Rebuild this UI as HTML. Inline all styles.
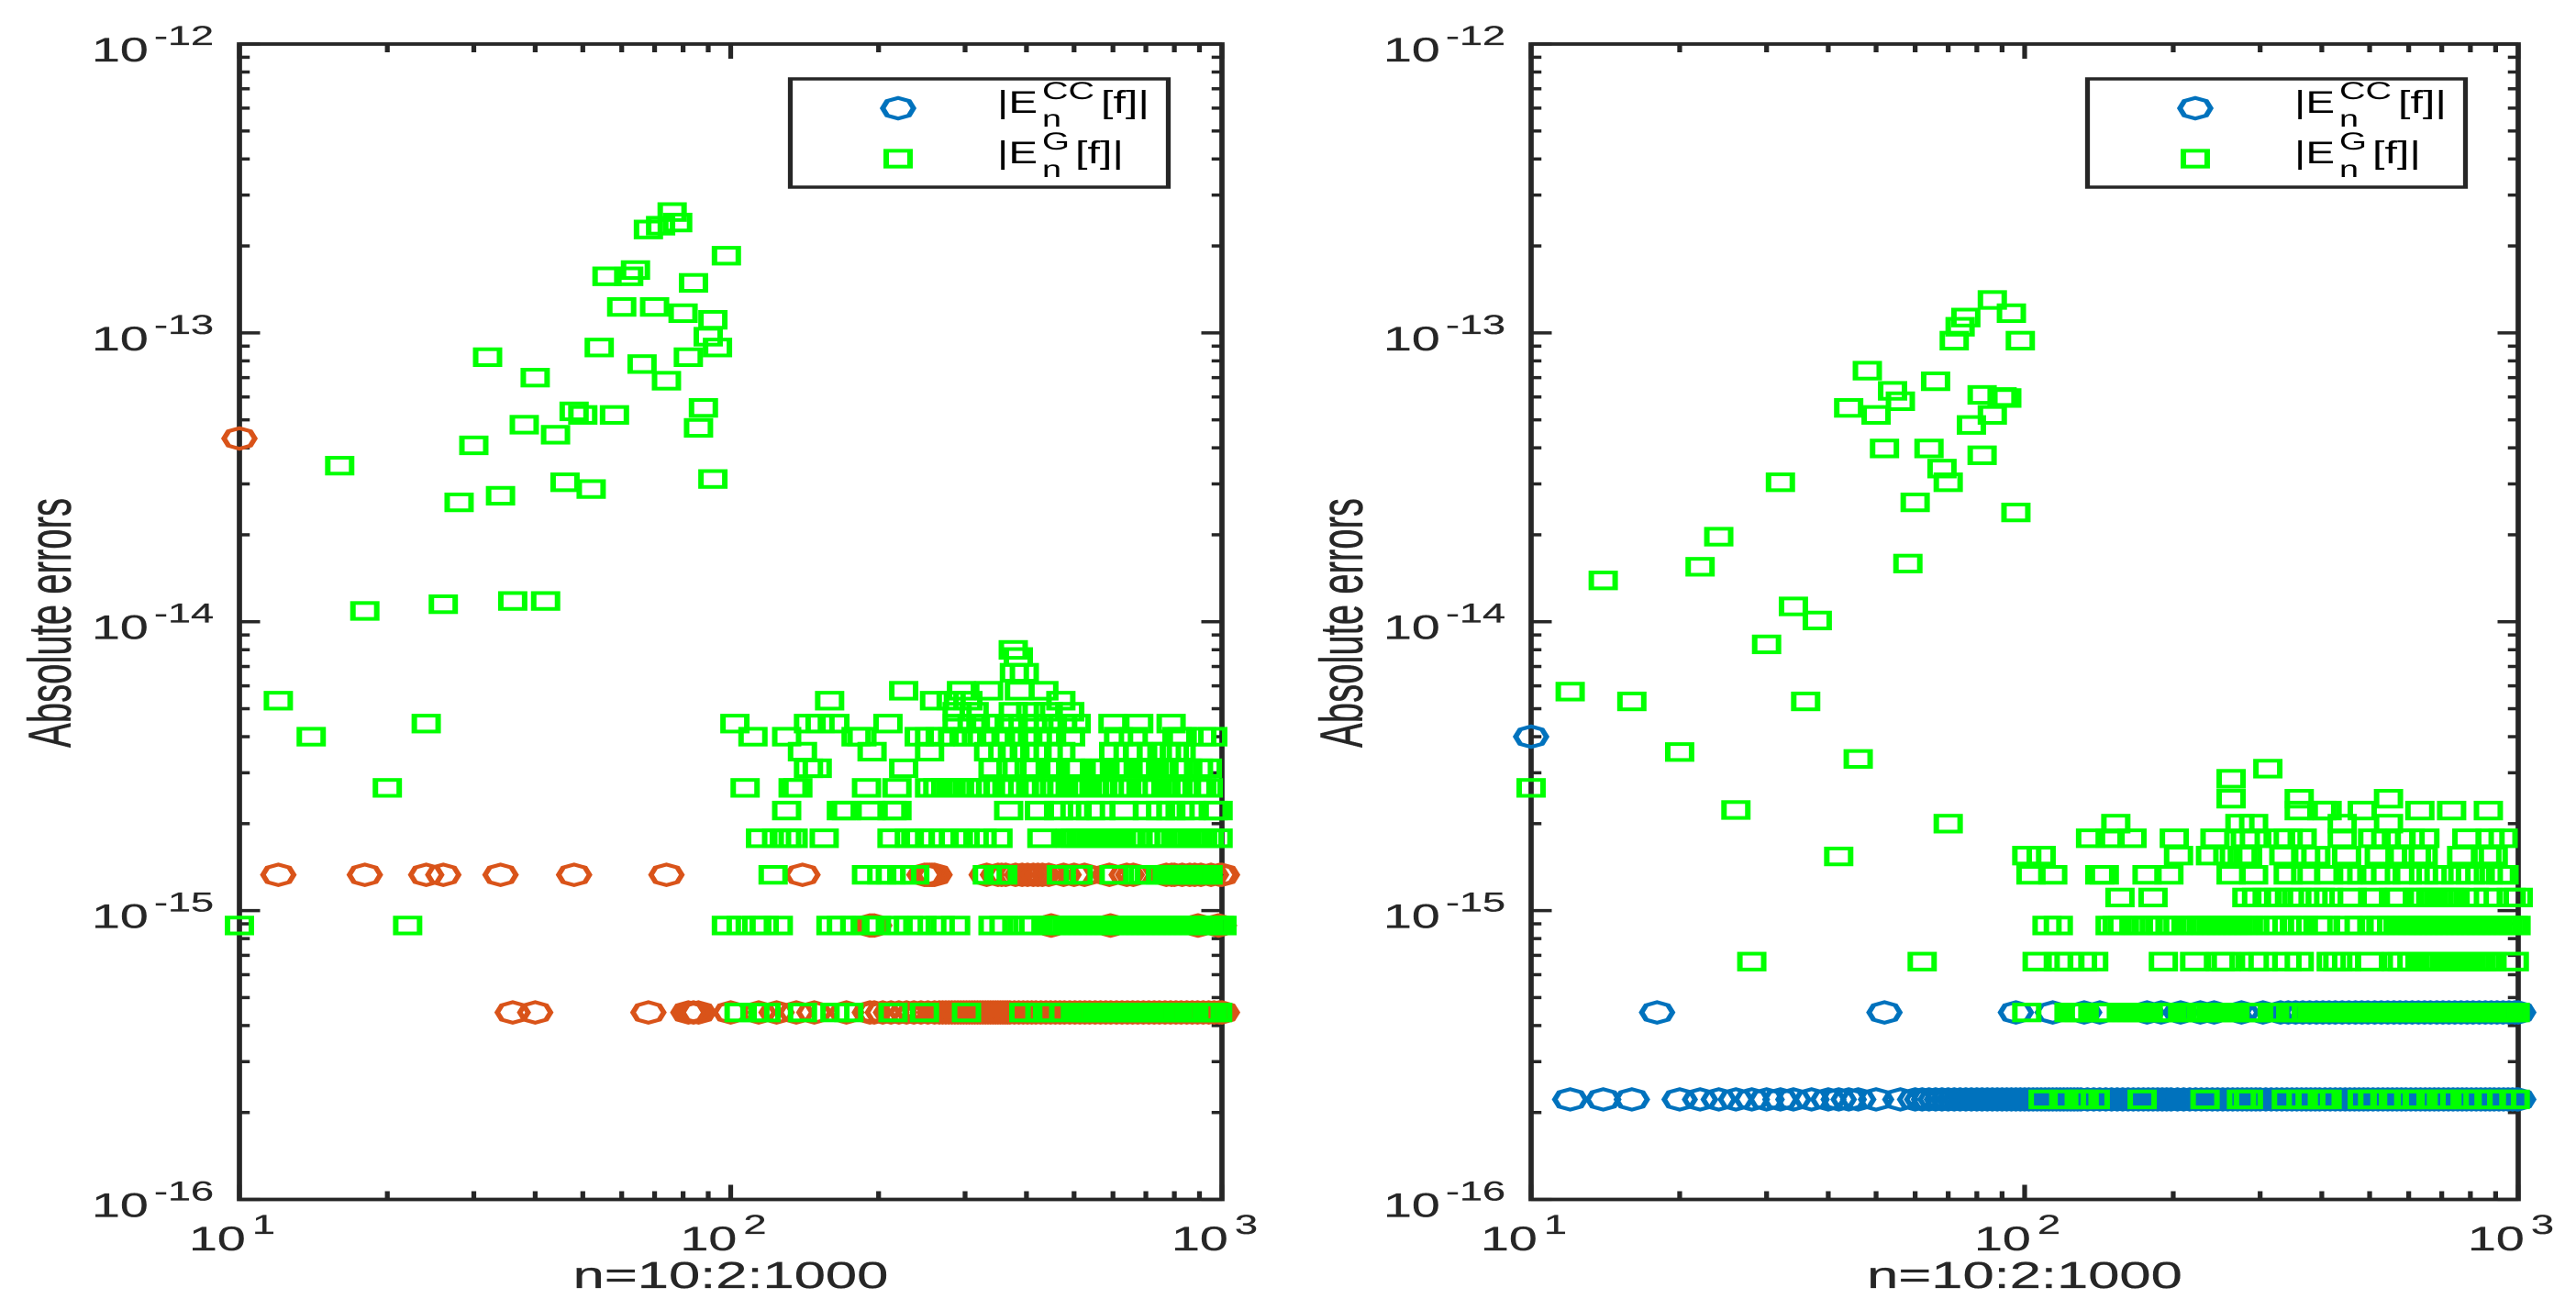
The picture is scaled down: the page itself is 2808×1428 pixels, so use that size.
<!DOCTYPE html>
<html lang="en">
<head>
<meta charset="utf-8">
<title>Absolute errors of Clenshaw-Curtis and Gauss quadrature</title>
<style>
html,body{margin:0;padding:0;background:#fff;width:2808px;height:1428px;overflow:hidden}
svg{display:block}
text{font-family:"Liberation Sans",sans-serif;stroke:#262626;stroke-width:.3}
</style>
</head>
<body>
<svg id="figure" xmlns="http://www.w3.org/2000/svg" width="2808" height="1428" viewBox="0 0 1872 1428" preserveAspectRatio="none"></svg>
<script>
/* ---------- shared axis data ---------- */
const xDecades = [1, 2, 3];
const yDecades = [-16, -15, -14, -13, -12];
const minorMultipliers = [2, 3, 4, 5, 6, 7, 8, 9];
const xAxisTitle = "n=10:2:1000";
const yAxisTitle = "Absolute errors";

/* ---------- left panel: Clenshaw-Curtis ---------- */
const leftCCScatterN = [10];
const leftCCScatterE = [4.31e-14];
const leftCCRowLevels = [4.44e-16, 8.88e-16, 1.33e-15];
const leftCCRowN = [
  [36,40,68,82,84,86,100,114,124,136,148,172,192,196,204,212,220,228,236,244,252,260,266,270,274,278,282,286,290,294,298,302,306,310,314,318,322,326,330,334,338,342,346,350,354,358,362,366,370,378,386,394,402,410,418,428,438,448,458,468,478,490,502,514,526,538,552,566,580,594,610,626,642,658,674,692,710,728,746,766,786,806,826,848,870,892,916,940,964,988,1000],
  [192,194,196,448,450,592,594,892,896,982,986],
  [12,18,24,26,34,48,74,140,248,250,252,254,256,258,260,332,350,356,363,380,392,402,413,422,431,444,476,500,525,590,640,660,770,790,800,830,860,880,906,950,990,1000]
];

/* ---------- left panel: Gauss ---------- */
const leftGaussScatterN = [76,68,72,78,98,64,56,62,84,60,70,80,92,90,94,54,32,82,66,74,40,88,48,50,58,86,38,44,30,16,34,46,52,92,28,18,26,36,42];
const leftGaussScatterE = [2.62e-13,2.28e-13,2.35e-13,2.41e-13,1.85e-13,1.65e-13,1.57e-13,1.57e-13,1.49e-13,1.23e-13,1.23e-13,1.17e-13,1.11e-13,9.7e-14,8.9e-14,8.9e-14,8.24e-14,8.24e-14,7.8e-14,6.83e-14,7e-14,5.5e-14,5.35e-14,5.2e-14,5.2e-14,4.69e-14,4.81e-14,4.44e-14,4.08e-14,3.47e-14,2.73e-14,3.04e-14,2.88e-14,3.12e-14,2.59e-14,1.09e-14,1.15e-14,1.18e-14,1.18e-14];
const leftGaussRowLevels = [4.44e-16,8.88e-16,1.33e-15,1.78e-15,2.22e-15,2.66e-15,3.11e-15,3.55e-15,4e-15,4.44e-15,4.88e-15,5.33e-15,5.77e-15,6.66e-15,7.55e-15,7.99e-15];
const leftGaussRowN = [
  [104,112,118,140,163,174,214,248,302,395,426,450,515,528,541,555,569,583,598,613,628,644,660,677,694,712,730,748,767,786,793,835,866,908,932,955,980],
  [10,22,98,105,113,117,125,160,168,179,189,198,215,230,245,267,287,342,360,392,414,440,450,461,472,484,496,508,521,534,547,561,575,589,604,619,634,650,666,683,700,718,736,754,773,792,812,832,853,874,896,918,941,965,989,1000],
  [122,189,203,212,223,237,333,351,358,471,510,603,692,712,750,782,790,810,830,851,872,894,916,937],
  [115,124,130,134,155,213,231,242,254,272,285,300,325,350,430,491,503,516,529,542,555,569,583,598,613,624,653,675,698,720,726,750,782,806,830,848,870,892,914,942,982],
  [130,168,172,193,213,218,368,425,465,502,540,567,632,705,750,787,822,866,960,982],
  [20,107,134,137,189,218,254,264,274,281,289,303,313,327,338,352,365,374,393,408,422,443,458,474,491,504,518,532,551,567,590,612,640,690,705,738,769,806,847,890,910,938],
  [144,150,225,342,372,405,418,447,458,492,506,553,578,604,626,636,680,693,710,720,750,758,806,815,845,852,896,934],
  [140,194,254,335,358,379,396,416,443,470,602,644,675,718,771,800,826],
  [14,111,130,180,185,242,254,267,283,304,325,346,368,396,421,450,492,616,660,810,830,910,958],
  [24,102,144,152,163,209,289,310,330,352,376,412,443,474,505,600,677,788],
  [289,313,376,408,443,490],
  [12,159,260,281,304,470],
  [225,295,335,387,434],
  [378,396],
  [385],
  [376]
];

/* ---------- right panel: Clenshaw-Curtis ---------- */
const rightCCScatterN = [10];
const rightCCScatterE = [4e-15];
const rightCCRowLevels = [2.22e-16, 4.44e-16];
const rightCCRowN = [
  [12,14,16,20,22,24,26,28,30,32,34,37,40,42,44,46,50,56,60,62,64,66,68,70,72,74,76,78,80,82,84,86,88,90,92,94,96,98,100,102,104,106,108,110,112,114,116,118,120,122,124,126,128,130,134,138,142,146,150,154,158,162,166,170,174,178,182,186,190,194,198,204,210,216,222,228,234,240,246,252,258,264,270,276,282,288,294,300,308,316,324,332,340,348,356,364,372,380,388,396,406,416,426,436,446,456,466,476,486,496,508,520,532,544,556,568,580,592,606,620,634,648,662,676,690,706,722,738,754,770,786,804,822,840,858,876,894,914,934,954,974,994,1000],
  [18,52,96,114,132,142,177,189,207,227,242,275,304,330,342,354,366,378,390,402,414,426,440,454,468,482,496,512,528,544,560,576,592,610,628,646,664,684,704,724,744,766,788,810,834,858,882,906,932,958,984,1000]
];

/* ---------- right panel: Gauss ---------- */
const rightGaussScatterN = [86,94,76,74,72,98,48,66,54,82,92,90,56,44,50,86,78,52,64,82,68,32,70,60,96,24,22,58,14,34,38,30,36,46,20,16,12,10,26,70,42,28,62];
const rightGaussScatterE = [1.3e-13,1.17e-13,1.13e-13,1.05e-13,9.4e-14,9.4e-14,7.4e-14,6.8e-14,6.3e-14,6.1e-14,5.95e-14,6e-14,5.8e-14,5.5e-14,5.2e-14,5.2e-14,4.8e-14,3.98e-14,3.98e-14,3.77e-14,3.39e-14,3.04e-14,3.04e-14,2.59e-14,2.39e-14,1.97e-14,1.55e-14,1.59e-14,1.39e-14,1.13e-14,1.01e-14,8.35e-15,5.3e-15,3.35e-15,3.54e-15,5.3e-15,5.73e-15,2.66e-15,2.23e-15,2e-15,1.54e-15,6.66e-16,6.66e-16];
const rightGaussRowLevels = [2.22e-16,4.44e-16,6.66e-16,8.88e-16,1.11e-15,1.33e-15,1.55e-15,1.78e-15,2e-15,2.22e-15,2.44e-15,2.86e-15,3.1e-15];
const rightGaussRowN = [
  [109,120,129,132,139,173,232,275,284,339,363,380,401,410,483,507,537,559,604,627,666,699,717,781,788,829,877,926,986],
  [101,123,126,129,132,142,146,157,161,165,169,173,178,187,191,196,217,222,228,233,239,245,251,257,264,284,291,298,321,346,354,372,382,391,401,411,421,432,443,454,465,477,489,501,514,526,540,553,567,581,596,611,626,642,658,674,691,709,726,745,763,782,802,822,842,864,885,907,930,953,977,986],
  [106,117,123,131,138,191,221,249,256,292,304,340,360,418,431,449,500,566,582,609,639,660,674,691,709,726,745,763,782,802,822,842,864,885,982],
  [111,117,149,154,158,168,170,178,183,190,197,205,215,222,228,233,239,245,251,257,264,270,277,284,292,315,327,340,355,367,393,407,452,476,511,527,554,581,596,611,626,642,658,674,691,709,726,745,763,782,802,822,842,864,885,907,930,953,977,990],
  [156,182,282,295,310,327,344,356,384,397,413,461,507,559,574,626,642,665,674,691,709,726,745,815,870,968,1000],
  [103,114,142,145,177,196,262,291,342,371,413,452,482,514,539,596,643,691,748,800,870,921,936],
  [101,108,205,238,258,276,283,335,371,389,449,523,576,622,642,768,864,890],
  [136,149,165,201,243,280,292,330,342,365,440,507,539,576,604,647,787,877,932],
  [153,273,291,440,546],
  [360,400,410,483,632,733,870],
  [262,360,546],
  [262],
  [311]
];

/* ---------- layout constants (pixels of the final picture) ---------- */
const STRETCH = 1.5;
const INK = "#262626";
const svg = document.getElementById("figure");
const NS = "http://www.w3.org/2000/svg";

function make(tag, attrs, parent) {
  const el = document.createElementNS(NS, tag);
  for (const k in attrs) el.setAttribute(k, attrs[k]);
  parent.appendChild(el);
  return el;
}
function u(px) { return px / STRETCH; }

function octagonPoints(cx, cy, r) {
  const pts = [];
  for (let k = 0; k < 8; k++) {
    const a = k * Math.PI / 4;
    pts.push((cx + r * Math.cos(a)).toFixed(2) + "," + (cy + r * Math.sin(a)).toFixed(2));
  }
  return pts.join(" ");
}
function drawCC(parent, cx, cy, color) {
  const el = make("polygon", {points: octagonPoints(cx, cy, 11.2), fill: "none", stroke: color, "stroke-width": 4}, parent);
  
  
  return el;
}
function drawGauss(parent, cx, cy) {
  const el = make("rect", {x: cx - 8.65, y: cy - 8.65, width: 17.3, height: 17.3, fill: "none", stroke: "#00ff00", "stroke-width": 4}, parent);
  
  
  return el;
}

function drawPanel(p) {
  const g = make("g", {}, svg);
  
  

  const xs = n => u(p.left + (p.right - p.left) * (Math.log10(n) - 1) / 2);
  const ys = e => p.top + (p.bottom - p.top) * (-12 - Math.log10(e)) / 4;
  const L = u(p.left), R = u(p.right);

  /* ticks */
  const ticks = make("g", {stroke: INK, "stroke-width": 3.5, fill: "none"}, g);
  
  
  function hTick(y, len) {
    make("line", {x1: L, x2: L + len, y1: y, y2: y}, ticks);
    make("line", {x1: R, x2: R - len, y1: y, y2: y}, ticks);
  }
  function vTick(x, len) {
    make("line", {x1: x, x2: x, y1: p.bottom, y2: p.bottom - len}, ticks);
    make("line", {x1: x, x2: x, y1: p.top, y2: p.top + len}, ticks);
  }
  yDecades.forEach((d, i) => {
    hTick(ys(Math.pow(10, d)), 15);
    if (i < yDecades.length - 1) minorMultipliers.forEach(m => hTick(ys(m * Math.pow(10, d)), 7.5));
  });
  xDecades.forEach((d, i) => {
    vTick(xs(Math.pow(10, d)), 16);
    if (i < xDecades.length - 1) minorMultipliers.forEach(m => vTick(xs(m * Math.pow(10, d)), 9));
  });

  /* axes box */
  const box = make("rect", {x: L, y: p.top, width: R - L, height: p.bottom - p.top, fill: "none", stroke: INK, "stroke-width": 3.8}, g);
  
  

  /* y tick labels */
  yDecades.forEach(d => {
    const y = ys(Math.pow(10, d));
    const base = make("text", {x: u(p.left - 161), y: y + 19, "font-size": 37, fill: INK}, g);
    base.textContent = "10";
    
    
    const sup = make("text", {x: u(p.left - 93), y: y + 1, "font-size": 30, fill: INK}, g);
    sup.textContent = String(d);
    
    
  });

  /* x tick labels */
  xDecades.forEach(d => {
    const x = xs(Math.pow(10, d));
    const base = make("text", {x: x - u(55), y: 1363, "font-size": 37, fill: INK}, g);
    base.textContent = "10";
    
    
    const sup = make("text", {x: x + u(14), y: 1345, "font-size": 30, fill: INK}, g);
    sup.textContent = String(d);
    
    
  });

  /* axis titles */
  const xt = make("text", {x: (L + R) / 2, y: 1404, "font-size": 41, "text-anchor": "middle", fill: INK}, g);
  xt.textContent = xAxisTitle;
  
  
  const yx = u(p.left - 184), yy = 679;
  const yt = make("text", {x: yx, y: yy, "font-size": 44, "text-anchor": "middle", textLength: 272, lengthAdjust: "spacingAndGlyphs", fill: INK, transform: "rotate(-90 " + yx + " " + yy + ")"}, g);
  yt.textContent = yAxisTitle;
  
  

  /* CC series */
  const cc = make("g", {}, g);
  
  
  p.ccN.forEach((n, i) => drawCC(cc, xs(n), ys(p.ccE[i]), p.ccColor));
  p.ccLevels.forEach((lvl, r) => p.ccRows[r].forEach(n => drawCC(cc, xs(n), ys(lvl), p.ccColor)));

  /* Gauss series */
  const gs = make("g", {}, g);
  
  
  p.gN.forEach((n, i) => drawGauss(gs, xs(n), ys(p.gE[i])));
  p.gLevels.forEach((lvl, r) => p.gRows[r].forEach(n => drawGauss(gs, xs(n), ys(lvl))));

  /* legend */
  const d = p.legendDx;
  const lg = make("g", {}, g);
  
  
  const lb = make("rect", {x: u(861.5 + d), y: 86, width: u(412), height: 118, fill: "#fff", stroke: INK, "stroke-width": 3.5}, lg);
  
  
  drawCC(lg, u(979 + d), 118, "#0072BD");
  drawGauss(lg, u(979 + d), 173);
  function legendText(str, px, y, size, widthPx, name) {
    const t = make("text", {x: u(px + d), y: y, "font-size": size, textLength: u(widthPx), lengthAdjust: "spacingAndGlyphs", fill: "#000", stroke: "none"}, lg);
    t.style.stroke = "none";
    t.textContent = str;
    
    
  }
  legendText("|E", 1087, 123, 34, 44, 'legend-label-cc');
  legendText("CC", 1136, 108, 27, 57, 'legend-label-cc-superscript');
  legendText("n", 1136, 138, 26, 21, 'legend-label-cc-subscript');
  legendText("[f]|", 1200, 123, 34, 53, 'legend-label-cc-tail');
  legendText("|E", 1087, 178, 34, 44, 'legend-label-gauss');
  legendText("G", 1136, 163, 27, 30, 'legend-label-gauss-superscript');
  legendText("n", 1136, 193, 26, 21, 'legend-label-gauss-subscript');
  legendText("[f]|", 1172, 178, 34, 53, 'legend-label-gauss-tail');
}

drawPanel({
  name: "left-panel", left: 261, right: 1332, top: 48, bottom: 1307.5, legendDx: 0,
  ccColor: "#D95319",
  ccN: leftCCScatterN, ccE: leftCCScatterE, ccLevels: leftCCRowLevels, ccRows: leftCCRowN,
  gN: leftGaussScatterN, gE: leftGaussScatterE, gLevels: leftGaussRowLevels, gRows: leftGaussRowN
});
drawPanel({
  name: "right-panel", left: 1669, right: 2745, top: 48, bottom: 1307.5, legendDx: 1414,
  ccColor: "#0072BD",
  ccN: rightCCScatterN, ccE: rightCCScatterE, ccLevels: rightCCRowLevels, ccRows: rightCCRowN,
  gN: rightGaussScatterN, gE: rightGaussScatterE, gLevels: rightGaussRowLevels, gRows: rightGaussRowN
});
</script>
</body>
</html>
